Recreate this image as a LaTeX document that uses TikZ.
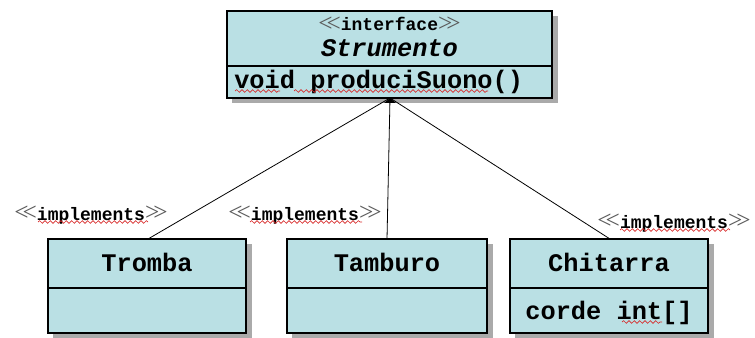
\documentclass[tikz,border=0pt]{standalone}
\usepackage{fontspec}
\setmonofont{Liberation Mono}
\newfontfamily\serifang{Liberation Serif}
\usetikzlibrary{decorations.pathmorphing,arrows.meta}
\definecolor{boxfill}{RGB}{186,224,228}
\definecolor{shadowgray}{RGB}{170,170,170}
\definecolor{squig}{RGB}{215,40,40}
\definecolor{anglegray}{RGB}{90,90,90}
\tikzset{
  umlbox/.style={draw=black, fill=boxfill, line width=0.8pt},
  bigtxt/.style={font=\ttfamily\bfseries\fontsize{19}{21}\selectfont, inner sep=0pt},
  smalltxt/.style={font=\ttfamily\bfseries\fontsize{13.5}{15}\selectfont, inner sep=0pt},
  link/.style={draw=black, line width=0.6pt},
  wavy/.style={draw=squig, line width=0.5pt, decorate, decoration={snake, amplitude=1pt, segment length=4pt}}
}
\newcommand{\stereo}[1]{{\serifang\mdseries\fontsize{19}{20}\selectfont\color{anglegray}\raisebox{-0.5pt}{<\kern-4.5pt<}}#1{\serifang\mdseries\fontsize{19}{20}\selectfont\color{anglegray}\raisebox{-0.5pt}{>\kern-4.5pt>}}}
\begin{document}
\begin{tikzpicture}[x=0.75pt,y=-0.75pt]
\useasboundingbox (0,0) rectangle (755,338);
% shadows
\fill[shadowgray] (232,16) rectangle (558,103);
\fill[shadowgray] (53,244) rectangle (252,338);
\fill[shadowgray] (292,244) rectangle (493,338);
\fill[shadowgray] (515,244) rectangle (714,338);
% top interface box
\draw[umlbox] (227,11) rectangle (552,98);
\draw[line width=0.8pt] (227,66) -- (552,66);
\node[smalltxt] (ster) at (389.5,24) {\stereo{interface}};
\node[font=\ttfamily\bfseries\itshape\fontsize{19}{21}\selectfont, inner sep=0pt] (strum) at (389.5,48) {Strumento};
\node[bigtxt, anchor=west] (meth) at (234,82) {void produciSuono()};
\coordinate (apex) at (390,98);
% wavy underlines top
\draw[wavy] (235,91) -- (280,91);
\draw[wavy] (294,91) -- (488,91);
% bottom boxes
\draw[umlbox] (48,239) rectangle (246,333);
\draw[line width=0.8pt] (48,288) -- (246,288);
\node[bigtxt] (tromba) at (147,262) {Tromba};
\draw[umlbox] (287,239) rectangle (487,333);
\draw[line width=0.8pt] (287,288) -- (487,288);
\node[bigtxt] (tamburo) at (387,262) {Tamburo};
\draw[umlbox] (510,239) rectangle (708,333);
\draw[line width=0.8pt] (510,288) -- (708,288);
\node[bigtxt] (chit) at (609,262) {Chitarra};
\node[bigtxt] (corde) at (609,313) {corde int[]};
\draw[wavy] (622,322) -- (662,322);
% connectors
\coordinate (ta) at (148,239);
\coordinate (tb) at (387,239);
\coordinate (tc) at (610,239);
\draw[link] (ta) -- (apex);
\draw[link] (tb) -- (apex);
\draw[link] (tc) -- (apex);
\fill[black] (apex) -- ++(-6,5) -- ++(12,0) -- cycle;
% labels
\node[smalltxt] (l1) at (91,215) {\stereo{implements}};
\node[smalltxt] (l2) at (305,215) {\stereo{implements}};
\node[smalltxt] (l3) at (674,223) {\stereo{implements}};
\draw[wavy] (38,222) -- (148,222);
\draw[wavy] (250,222) -- (362,222);
\draw[wavy] (620,230) -- (730,230);
\end{tikzpicture}
\end{document}
